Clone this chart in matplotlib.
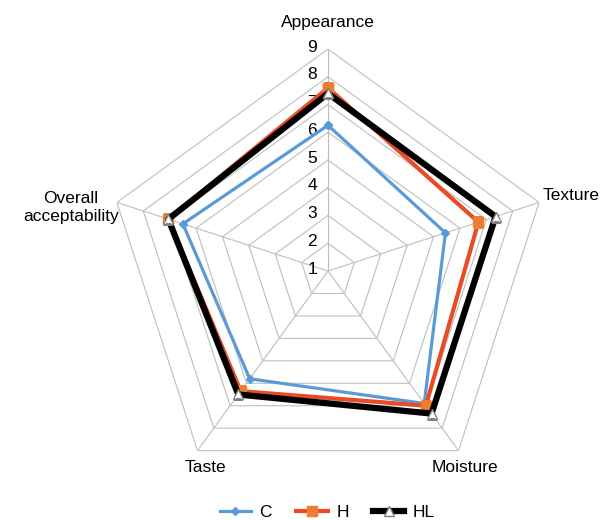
import numpy as np
import matplotlib.pyplot as plt

plt.rcParams['font.family'] = ['Liberation Sans', 'DejaVu Sans']

categories = ['Appearance', 'Texture', 'Moisture', 'Taste', 'Overall\nacceptability']
scale_ticks = [1, 2, 3, 4, 5, 6, 7, 8, 9]
C = [6.25, 5.45, 6.9, 5.8, 6.5]
H = [7.6, 6.7, 7.0, 6.35, 7.05]
HL = [7.4, 7.35, 7.35, 6.5, 7.05]

n = len(categories)
theta = np.linspace(0, 2 * np.pi, n, endpoint=False)
theta_c = np.append(theta, theta[0])

def closed(v):
    return list(v) + [v[0]]

fig = plt.figure(figsize=(6.12, 5.2), dpi=100)
ax = fig.add_axes([0.1732, 0.0519, 0.7255, 0.8538], projection='polar')
ax.set_theta_zero_location('N')
ax.set_theta_direction(-1)
ax.set_ylim(scale_ticks[0], scale_ticks[-1])
ax.set_xticks([])
ax.set_yticks([])
ax.grid(False)
ax.spines['polar'].set_visible(False)

# pentagon grid
grid_col = '#bfbfbf'
for r in scale_ticks[1:]:
    ax.plot(theta_c, [r] * (n + 1), color=grid_col, lw=0.8, zorder=1)
for t in theta:
    ax.plot([t, t], [scale_ticks[0], scale_ticks[-1]], color=grid_col, lw=0.8, zorder=1)

# scale labels along the top spoke
for r in scale_ticks:
    ax.annotate(str(r), (0, r), xytext=(-11, 2), textcoords='offset pixels',
                ha='right', va='center', fontsize=12.5, color='black')

# category labels
offsets = [(0, 27, 'center'), (4, 7, 'left'), (6, -17, 'center'),
           (8, -17, 'center'), (2, -5, 'right')]
for t, lab, (dx, dy, ha) in zip(theta, categories, offsets):
    ax.annotate(lab, (t, scale_ticks[-1]), xytext=(dx, dy), textcoords='offset pixels',
                ha=ha, va='center', fontsize=12.5, multialignment='center',
                linespacing=1.3)

ax.plot(theta_c, closed(C), color='#5b9bd5', lw=2.3, marker='D', ms=4,
        mfc='#5b9bd5', mec='#5b9bd5', label='C', zorder=3)
ax.plot(theta_c, closed(H), color='#e84b25', lw=3, marker='s', ms=7,
        mfc='#ed7d31', mec='#ed7d31', label='H', zorder=4)
ax.plot(theta_c, closed(HL), color='black', lw=4.5, marker='^', ms=7,
        mfc='white', mec='#808080', mew=1, label='HL', zorder=5)

fig.legend(loc='lower center', ncol=3, frameon=False, fontsize=12.5,
           bbox_to_anchor=(0.535, -0.03), handlelength=1.8, columnspacing=1.4,
           handletextpad=0.5)

fig.savefig('out.png', dpi=100)
